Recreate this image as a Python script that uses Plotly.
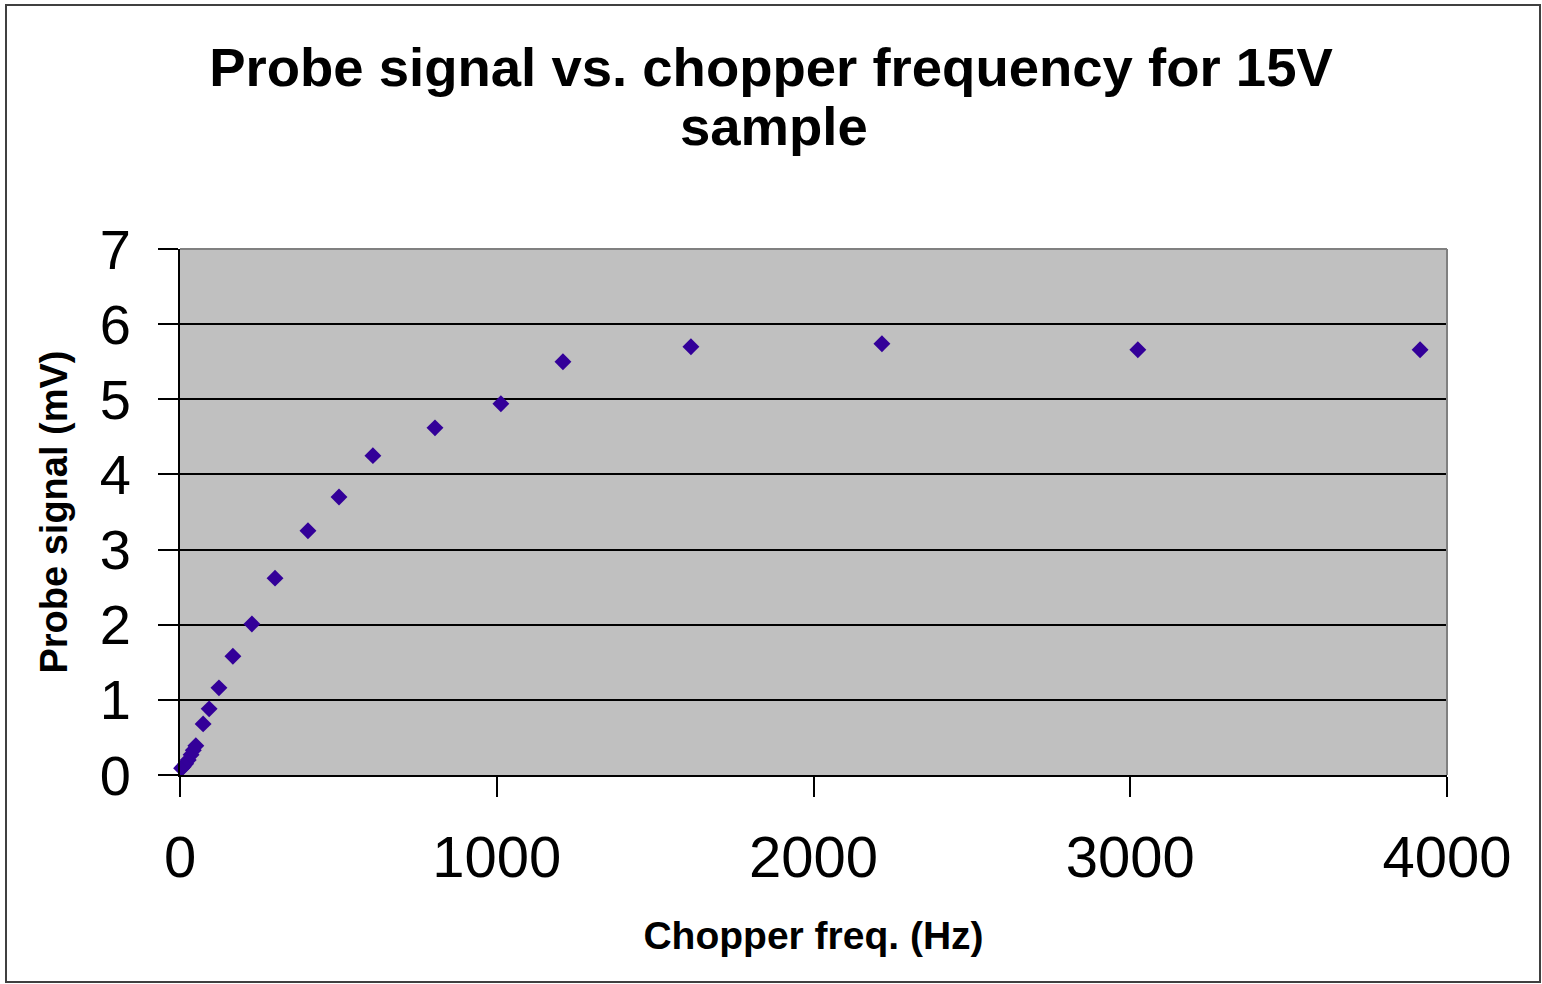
import plotly.graph_objects as go

freq_hz = [5, 10, 18, 26, 35, 42, 50, 73, 92, 123, 167, 227, 300, 404, 502, 609,
           805, 1013, 1209, 1613, 2216, 3024, 3915]
signal_mv = [0.09, 0.11, 0.15, 0.20, 0.27, 0.33, 0.39, 0.68, 0.88, 1.16, 1.58, 2.01,
             2.62, 3.25, 3.70, 4.25, 4.62, 4.94, 5.50, 5.70, 5.74, 5.66, 5.66]

x_ticks = [0, 1000, 2000, 3000, 4000]
y_ticks = [0, 1, 2, 3, 4, 5, 6, 7]

title_line1 = "Probe signal vs. chopper frequency for 15V"
title_line2 = "sample"

FONT = "Liberation Sans, Arial, sans-serif"

fig = go.Figure()
fig.add_trace(go.Scatter(
    x=freq_hz, y=signal_mv, mode="markers",
    marker=dict(symbol="diamond", size=13, color="#330099", line=dict(width=0)),
    showlegend=False, cliponaxis=False,
))

fig.update_layout(
    width=1542, height=984,
    margin=dict(l=180, r=95, t=249, b=209),
    paper_bgcolor="white", plot_bgcolor="#C0C0C0",
    font=dict(family=FONT, color="black"),
    title=dict(
        text="<b>" + title_line1 + "</b>",
        x=0.5, xref="container", xanchor="center",
        y=1 - 67 / 984, yref="container", yanchor="middle",
        font=dict(size=54.5, family=FONT, color="black"),
    ),
    annotations=[dict(
        text="<b>" + title_line2 + "</b>", showarrow=False,
        xref="paper", yref="paper", x=(774 - 180) / 1267, y=(775 - 127) / 526,
        xanchor="center", yanchor="middle",
        font=dict(size=54.5, family=FONT, color="black"),
    )],
    xaxis=dict(
        range=[0, 4000], tickvals=x_ticks, ticktext=[str(v) for v in x_ticks],
        showgrid=False, zeroline=False,
        showline=True, linecolor="black", linewidth=2,
        ticks="outside", ticklen=20, tickwidth=2, tickcolor="black",
        tickfont=dict(size=58, family=FONT, color="black"),
        ticklabelstandoff=10,
        title=dict(text="<b>Chopper freq. (Hz)</b>", font=dict(size=39, family=FONT, color="black"),
                   standoff=34),
    ),
    yaxis=dict(
        range=[0, 7], tickvals=y_ticks, ticktext=[str(v) for v in y_ticks],
        showgrid=True, gridcolor="black", gridwidth=1.5, zeroline=False,
        showline=True, linecolor="black", linewidth=2,
        ticks="outside", ticklen=20, tickwidth=2, tickcolor="black",
        tickfont=dict(size=56, family=FONT, color="black"),
        ticklabelstandoff=16,
        title=dict(text="<b>Probe signal (mV)</b>", font=dict(size=38, family=FONT, color="black"),
                   standoff=20),
    ),
    shapes=[
        dict(type="line", xref="paper", yref="paper", x0=0, x1=1, y0=1, y1=1,
             line=dict(color="#808080", width=2)),
        dict(type="line", xref="paper", yref="paper", x0=1, x1=1, y0=0, y1=1,
             line=dict(color="#808080", width=2)),
        dict(type="rect", xref="paper", yref="paper",
             x0=(6 - 180) / 1267, x1=(1540 - 180) / 1267,
             y0=(775 - 982) / 526, y1=(775 - 5) / 526,
             line=dict(color="#404040", width=2), fillcolor="rgba(0,0,0,0)", layer="below"),
    ],
)

fig.write_html("out.html")
